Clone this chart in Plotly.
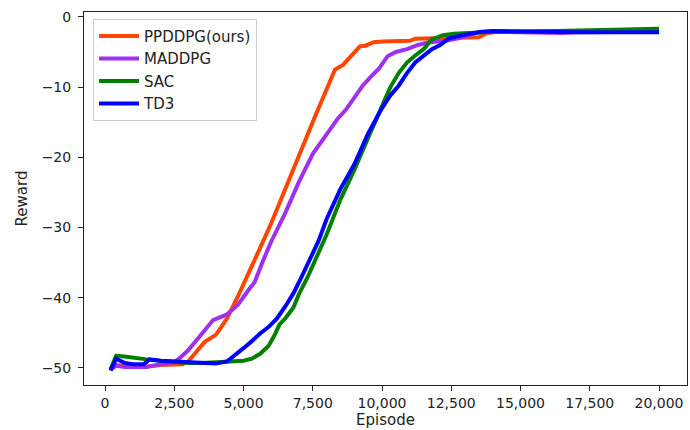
import plotly.graph_objects as go

# ---- data ----
ppddpg_x = [200, 400, 800, 1500, 2000, 2500, 2800, 3000, 3300, 3600, 4000, 4400, 4800, 5200, 5600,
            6000, 6400, 6800, 7200, 7600, 8000, 8300, 8600, 8800, 9000, 9200, 9400, 9700, 10000,
            10500, 11000, 11200, 12000, 12500, 13000, 13500, 13800, 14200, 15000, 16000, 17000,
            18000, 19000, 20000]
ppddpg_y = [-50.2, -49.6, -49.8, -49.8, -49.6, -49.6, -49.5, -49.1, -47.8, -46.3, -45.3, -43.0,
            -39.8, -36.5, -32.9, -29.4, -25.5, -21.5, -17.8, -14.0, -10.3, -7.5, -6.8, -6.0, -5.2,
            -4.2, -4.1, -3.6, -3.5, -3.5, -3.4, -3.1, -3.0, -3.0, -3.0, -2.9, -2.3, -2.1, -2.1,
            -2.1, -2.2, -2.1, -2.1, -2.1]

maddpg_x = [200, 400, 700, 1000, 1500, 2000, 2500, 2700, 3000, 3400, 3900, 4400, 4800, 5200, 5400,
            5700, 6000, 6500, 7000, 7500, 7800, 8100, 8400, 8700, 9000, 9300, 9600, 9900, 10200,
            10500, 10900, 11300, 11700, 12300, 12800, 13500, 14000, 15000, 16000, 16500, 17000,
            18000, 19000, 20000]
maddpg_y = [-50.2, -49.7, -49.9, -49.9, -49.9, -49.5, -49.2, -48.6, -47.5, -45.6, -43.2, -42.4,
            -41.0, -38.8, -37.8, -34.8, -32.0, -28.0, -23.5, -19.5, -17.8, -16.3, -14.5, -13.2,
            -11.6, -9.8, -8.5, -7.3, -5.6, -5.0, -4.6, -4.0, -3.6, -3.4, -3.0, -2.2, -2.1, -2.2,
            -2.3, -2.3, -2.2, -2.2, -2.1, -2.1]

sac_x = [200, 400, 700, 1000, 1500, 2000, 2500, 3000, 3500, 4000, 4500, 5000, 5300, 5600, 5900,
         6100, 6300, 6500, 6800, 7000, 7300, 7600, 8000, 8500, 9000, 9500, 10000, 10300, 10600,
         10900, 11200, 11500, 11800, 12200, 12600, 13000, 14000, 15000, 16000, 17000, 18000,
         19000, 20000]
sac_y = [-50.2, -48.3, -48.4, -48.6, -48.8, -49.0, -49.2, -49.3, -49.3, -49.2, -49.2, -49.0, -48.7,
         -48.0, -46.9, -45.5, -43.8, -43.0, -41.4, -39.5, -37.2, -34.5, -31.0, -26.0, -21.8,
         -17.2, -12.5, -10.0, -8.0, -6.5, -5.5, -4.6, -3.2, -2.6, -2.4, -2.3, -2.1, -2.1, -2.0,
         -2.0, -1.9, -1.8, -1.7]

td3_x = [200, 400, 700, 1000, 1400, 1600, 2000, 2500, 3000, 3500, 4000, 4400, 4700, 5000, 5300,
         5600, 5900, 6200, 6500, 6800, 7100, 7400, 7700, 8000, 8500, 9000, 9500, 10000, 10300,
         10600, 10900, 11200, 11500, 11800, 12100, 12400, 12900, 13600, 14000, 15000, 16000,
         17000, 18000, 19000, 20000]
td3_y = [-50.4, -48.7, -49.3, -49.5, -49.5, -48.8, -49.0, -49.1, -49.3, -49.4, -49.4, -49.1, -48.2,
         -47.2, -46.2, -45.1, -44.2, -43.0, -41.3, -39.4, -37.0, -34.5, -32.0, -28.8, -24.5,
         -21.0, -16.6, -13.0, -11.2, -9.8, -8.0, -6.5, -5.6, -4.6, -4.0, -3.1, -2.6, -2.1, -2.0,
         -2.0, -2.1, -2.2, -2.2, -2.2, -2.2]

names = ["PPDDPG(ours)", "MADDPG", "SAC", "TD3"]
colors = ["#FF4500", "#A030F0", "#008000", "#0000FF"]

x_ticks = [0, 2500, 5000, 7500, 10000, 12500, 15000, 17500, 20000]
y_ticks = [0, -10, -20, -30, -40, -50]

fig = go.Figure()
for name, color, xs, ys in zip(names, colors,
                                [ppddpg_x, maddpg_x, sac_x, td3_x],
                                [ppddpg_y, maddpg_y, sac_y, td3_y]):
    fig.add_trace(go.Scatter(x=xs, y=ys, mode="lines", name=name,
                             line=dict(color=color, width=4)))

axis_common = dict(showgrid=False, zeroline=False, showline=True, linecolor="#222222",
                   linewidth=1, mirror=True, ticks="outside", ticklen=5, tickwidth=1,
                   tickcolor="#222222", automargin=False,
                   tickfont=dict(family="DejaVu Sans", size=14, color="#222222"))

fig.update_xaxes(range=[-760, 21010], tickvals=x_ticks, tickformat=",d",
                 title=dict(text="Episode", font=dict(family="DejaVu Sans", size=15, color="#222222"),
                            standoff=1),
                 **axis_common)
fig.update_yaxes(range=[-52.45, 0.7], tickvals=y_ticks, ticklabelstandoff=4,
                 title=dict(text="Reward", font=dict(family="DejaVu Sans", size=15, color="#222222"),
                            standoff=10),
                 **axis_common)

fig.update_layout(
    width=690, height=430,
    margin=dict(l=84, r=3, t=12, b=45),
    plot_bgcolor="white", paper_bgcolor="white",
    font=dict(family="DejaVu Sans", color="#222222"),
    legend=dict(x=0.015, y=0.982, xanchor="left", yanchor="top",
                bgcolor="white", bordercolor="#cccccc", borderwidth=1,
                font=dict(family="DejaVu Sans", size=15, color="#222222"),
                tracegroupgap=0, itemwidth=40),
)

fig.write_html("out.html", config={"displayModeBar": False},
               post_script="document.body.style.margin='0px';")
